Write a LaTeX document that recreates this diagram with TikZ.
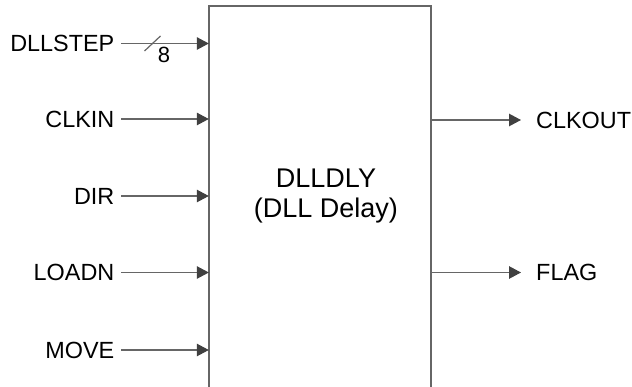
\documentclass[tikz,border=0pt]{standalone}
\usepackage{fontspec}
\setmainfont{Liberation Sans}
\usetikzlibrary{arrows.meta}

\tikzset{
  lbl/.style={inner sep=0pt, font=\fontsize{23.4}{28}\selectfont},
  title/.style={inner sep=0pt, align=center, font=\fontsize{27}{30}\selectfont},
  sig/.style={draw=black!60, line width=1.2pt, -{Triangle[length=12pt,width=12.5pt,color=black!75,fill=black!75]}},
  boxline/.style={draw=black!60, line width=1.5pt}
}

\begin{document}
\begin{tikzpicture}[x=1pt,y=-1pt]
\useasboundingbox (0,0) rectangle (632,387);
% block
\node[minimum width=222pt, minimum height=381pt, inner sep=0pt] (dll) at (320,196.5) {};
\draw[boxline] (dll.south west) -- (dll.north west) -- (dll.north east) -- (dll.south east);
\node[title] (name) at ([xshift=6pt]dll.center) {DLLDLY\\(DLL Delay)};
% inputs
\node[lbl, anchor=east] (dllstep) at (114.5,43.5) {DLLSTEP};
\node[lbl, anchor=east] (clkin) at (114.5,119) {CLKIN};
\node[lbl, anchor=east] (dir) at (114.5,196) {DIR};
\node[lbl, anchor=east] (loadn) at (114.5,272.5) {LOADN};
\node[lbl, anchor=east] (move) at (114.5,350) {MOVE};
\foreach \s in {dllstep,clkin,dir,loadn,move}
  \draw[sig, shorten <=6.5pt] (\s.east) -- (\s.east -| dll.west);
% bus width
\path (dllstep.east) ++(38,0) coordinate (bus);
\draw[draw=black!60, line width=1.2pt] ([shift={(-8,7.5)}]bus) -- ([shift={(8,-7.5)}]bus);
\node[inner sep=0pt, font=\fontsize{22}{24}\selectfont] (width) at ([shift={(11.5,11.5)}]bus) {8};
% outputs
\node[lbl, anchor=west] (clkout) at (536,120) {CLKOUT};
\node[lbl, anchor=west] (flag) at (536,272.5) {FLAG};
\foreach \s in {clkout,flag}
  \draw[sig, shorten >=15pt] (\s.west -| dll.east) -- (\s.west);
\end{tikzpicture}
\end{document}
